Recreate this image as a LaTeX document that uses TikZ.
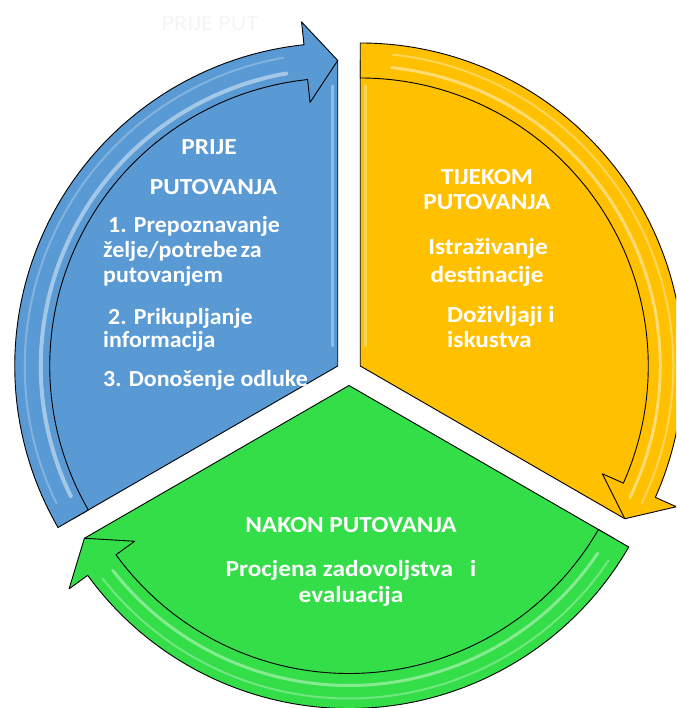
\documentclass[tikz,border=0pt]{standalone}
\usepackage{fontspec}
\setmainfont{Carlito}
\newfontfamily\lblfont{Carlito}[FakeStretch=1.1]
\newfontfamily\bodyfont{Carlito}[FakeStretch=1.04]
\definecolor{sblue}{RGB}{89,153,212}
\definecolor{syellow}{RGB}{255,192,0}
\definecolor{sgreen}{RGB}{52,222,72}
\tikzset{
  seg/.style={draw=black, line width=0.9pt, line join=round},
  lbl/.style={text=white, font=\lblfont\bfseries\fontsize{23}{25}\selectfont, inner sep=0pt},
  blbl/.style={lbl, font=\bodyfont\bfseries\fontsize{23}{25}\selectfont},
  gloss/.style={white, line cap=round},
}
\begin{document}
\begin{tikzpicture}[x=1pt,y=1pt]
\useasboundingbox (0,0) rectangle (676,708);
\fill[white] (0,0) rectangle (676,708);
\clip (0,0) rectangle (676,708);

\coordinate (B) at (337.74,342);
\coordinate (Y) at (360.26,342);
\coordinate (G) at (349,322.5);

% ghost text
\node[text=black!4, font=\lblfont\fontsize{22}{24}\selectfont, inner sep=0pt, anchor=base] (ghost) at (210,677) {PRIJE PUT};

% blue segment
\begin{scope}[shift={(B)}]
  \path[seg, fill=sblue] (0,0) -- (90:305.5) arc[start angle=90, end angle=210, radius=305.5] -- cycle;
  \draw[gloss, opacity=.35, line width=3pt] (-5,20) -- (-5,280);
  \path[seg, fill=sblue] (210:323) arc[start angle=210, end angle=96, radius=323]
     -- (96:346) -- (90:305.5) -- (96:265) -- (96:288)
     arc[start angle=96, end angle=210, radius=288] -- cycle;
  \draw[gloss, opacity=.45, line width=4pt] (206:297) arc[start angle=206, end angle=100, radius=297];
  \draw[gloss, opacity=.25, line width=2pt] (206:313) arc[start angle=206, end angle=100, radius=313];
\end{scope}

% yellow segment
\begin{scope}[shift={(Y)}]
  \path[seg, fill=syellow] (0,0) -- (90:305.5) arc[start angle=90, end angle=-30, radius=305.5] -- cycle;
  \draw[gloss, opacity=.35, line width=3pt] (5,20) -- (5,280);
  \path[seg, fill=syellow] (90:323) arc[start angle=90, end angle=-24, radius=323]
     -- (-24:346) -- (-30:305.5) -- (-24:265) -- (-24:288)
     arc[start angle=-24, end angle=90, radius=288] -- cycle;
  \draw[gloss, opacity=.45, line width=3pt] (84:300) arc[start angle=84, end angle=-26, radius=300];
  \draw[gloss, opacity=.35, line width=2pt] (84:313) arc[start angle=84, end angle=-26, radius=313];
\end{scope}

% green segment
\begin{scope}[shift={(G)}]
  \path[seg, fill=sgreen] (0,0) -- (330:305.5) arc[start angle=330, end angle=210, radius=305.5] -- cycle;
  \path[seg, fill=sgreen] (330:323) arc[start angle=330, end angle=216, radius=323]
     -- (216:346) -- (210:305.5) -- (216:265) -- (216:288)
     arc[start angle=216, end angle=330, radius=288] -- cycle;
  \draw[gloss, opacity=.4, line width=3pt] (326:300) arc[start angle=326, end angle=218, radius=300];
  \draw[gloss, opacity=.3, line width=2pt] (326:313) arc[start angle=326, end angle=218, radius=313];
\end{scope}

% blue texts
\node[lbl, anchor=base] (bt1) at (209,553) {PRIJE};
\node[lbl, anchor=base] (bt2) at (213.5,513) {PUTOVANJA};
\node[blbl, anchor=base west] (b1) at (103,475) {\hspace*{5pt}1. Prepoznavanje};
\node[blbl, anchor=base west] (b2) at (103,450) {želje/potrebe\hspace{3pt}za};
\node[blbl, anchor=base west] (b3) at (103,425) {putovanjem};
\node[blbl, anchor=base west] (b4) at (103,383) {\hspace*{5pt}2. Prikupljanje};
\node[blbl, anchor=base west] (b5) at (103,360) {informacija};
\node[blbl, anchor=base west] (b6) at (103,321) {3. Donošenje odluke};

% yellow texts
\node[lbl, anchor=base] (y1) at (487,523) {TIJEKOM};
\node[lbl, anchor=base] (y2) at (487,498) {PUTOVANJA};
\node[lbl, anchor=base] (y3) at (488,453) {Istraživanje};
\node[lbl, anchor=base] (y4) at (487,425) {destinacije};
\node[lbl, anchor=base west] (y5) at (447,385) {Doživljaji i};
\node[lbl, anchor=base west] (y6) at (447,360) {iskustva};

% green texts
\node[lbl, anchor=base] (g1) at (351,175) {NAKON PUTOVANJA};
\node[lbl, anchor=base] (g2) at (351,131) {Procjena zadovoljstva\hspace{0.5em} i};
\node[lbl, anchor=base] (g3) at (351,105) {evaluacija};
\end{tikzpicture}
\end{document}
